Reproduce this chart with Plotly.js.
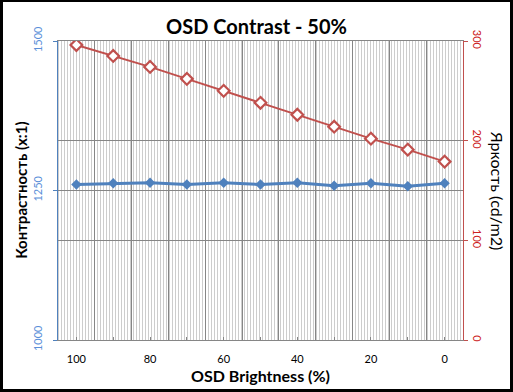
<!DOCTYPE html>
<html>
<head>
<meta charset="utf-8">
<script src="https://cdn.plot.ly/plotly-3.0.1.min.js"></script>
<style>
  html, body { margin: 0; padding: 0; background: #fff; }
  #wrap { position: relative; width: 513px; height: 392px; overflow: hidden; background: #fff; }
  #stripes { position: absolute; left: 58px; top: 41px; width: 405px; height: 299px;
    background: repeating-linear-gradient(90deg, #cdcdcd 0px, #cdcdcd 1px, #ffffff 1px, #ffffff 3px); }
  #chart { position: absolute; left: 0; top: 0; width: 513px; height: 392px; }
  #frame { position: absolute; left: 0; top: 0; width: 513px; height: 392px; box-sizing: border-box;
    border-style: solid; border-color: #000; border-width: 2px 3px 3px 3px; pointer-events: none; }
</style>
</head>
<body>
<div id="wrap">
  <div id="stripes"></div>
  <div id="chart"></div>
  <div id="frame"></div>
</div>
<script>
// Data
const osdBrightness = [100, 90, 80, 70, 60, 50, 40, 30, 20, 10, 0];
const contrast = [1260, 1262, 1263, 1260, 1263, 1260, 1263, 1258, 1262, 1257, 1262];
const luminance = [296, 285, 274, 262, 250, 238, 226, 214, 202, 191, 179];
const xTickVals = [100, 90, 80, 70, 60, 50, 40, 30, 20, 10, 0];
const xTickText = ['100', '', '80', '', '60', '', '40', '', '20', '', '0'];
const yTickVals = [1000, 1250, 1500];
const y2TickVals = [0, 100, 200, 300];

const BLUE = '#4f81bd';
const RED = '#c0504d';
const GRID = '#868686';
const FONT = 'Lato, "Open Sans", sans-serif';

const traces = [
  {
    x: osdBrightness, y: contrast, yaxis: 'y', type: 'scatter', mode: 'lines+markers',
    name: 'Контрастность',
    line: { color: BLUE, width: 3 },
    marker: { symbol: 'diamond', size: 8, color: BLUE }
  },
  {
    x: osdBrightness, y: luminance, yaxis: 'y2', type: 'scatter', mode: 'lines+markers',
    name: 'Яркость',
    line: { color: RED, width: 2 },
    marker: { symbol: 'diamond', size: 9, color: '#ffffff', line: { color: RED, width: 2.2 } }
  }
];

const layout = {
  width: 513, height: 392,
  margin: { l: 58, r: 50, t: 41, b: 52 },
  paper_bgcolor: 'rgba(0,0,0,0)',
  plot_bgcolor: 'rgba(0,0,0,0)',
  showlegend: false,
  font: { family: FONT, color: '#000' },
  title: {
    text: '<b>OSD Contrast - 50%</b>',
    font: { family: FONT, size: 20, color: '#000' },
    x: 0.5, xanchor: 'center', y: 0.93, yanchor: 'middle'
  },
  xaxis: {
    range: [105, -5],
    tickmode: 'array', tickvals: xTickVals, ticktext: xTickText,
    ticks: 'inside', ticklen: 3, tickcolor: GRID, tickwidth: 1,
    ticklabelstandoff: 9,
    tickfont: { family: FONT, size: 11, color: '#000' },
    showgrid: false, zeroline: false,
    showline: true, linecolor: GRID, linewidth: 1, mirror: true,
    minor: { tick0: 5, dtick: 10, showgrid: true, gridcolor: GRID, gridwidth: 1, ticks: '' },
    title: { text: '<b>OSD Brightness (%)</b>', font: { family: FONT, size: 16, color: '#000' }, standoff: 6 }
  },
  yaxis: {
    range: [1000, 1500],
    tickmode: 'array', tickvals: yTickVals,
    tickangle: -90,
    ticks: 'outside', ticklen: 4, tickcolor: BLUE,
    ticklabelstandoff: 7,
    tickfont: { family: FONT, size: 11, color: '#5b8fd9' },
    showgrid: true, gridcolor: GRID, gridwidth: 1, zeroline: false,
    showline: true, linecolor: BLUE, linewidth: 1
  },
  yaxis2: {
    range: [0, 300], overlaying: 'y', side: 'right',
    tickmode: 'array', tickvals: y2TickVals,
    tickangle: 90,
    ticks: 'outside', ticklen: 4, tickcolor: RED,
    ticklabelstandoff: 1,
    tickfont: { family: FONT, size: 11, color: '#cc2020' },
    showgrid: true, gridcolor: GRID, gridwidth: 1, zeroline: false,
    showline: true, linecolor: RED, linewidth: 1
  },
  annotations: [
    {
      text: '<b>Контрастность (x:1)</b>', xref: 'paper', yref: 'paper',
      x: -0.093, y: 0.5, xanchor: 'center', yanchor: 'middle', textangle: -90, showarrow: false,
      font: { family: FONT, size: 15, color: '#000' }
    },
    {
      text: 'Яркость (cd/m2)', xref: 'paper', yref: 'paper',
      x: 1.085, y: 0.5, xanchor: 'center', yanchor: 'middle', textangle: 90, showarrow: false,
      font: { family: FONT, size: 16, color: '#000' }
    }
  ]
};

Plotly.newPlot('chart', traces, layout, { staticPlot: true, displayModeBar: false });
</script>
</body>
</html>
